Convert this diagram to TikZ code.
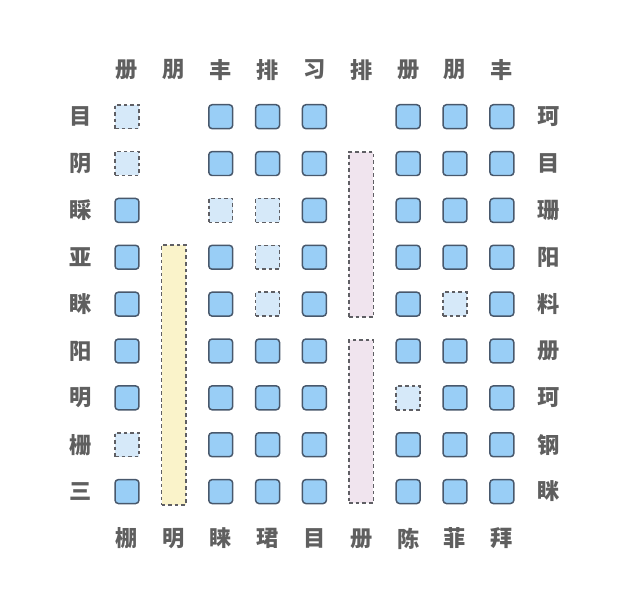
\documentclass[tikz,border=0pt]{standalone}
\usepackage{fontspec}
\newfontfamily\cjk{Noto Sans CJK SC}
\usepackage{xcolor}
\definecolor{cellblue}{RGB}{153,206,246}
\definecolor{cellpale}{RGB}{214,233,249}
\definecolor{celledge}{RGB}{72,88,108}
\definecolor{dashgray}{RGB}{95,95,100}
\definecolor{barcream}{RGB}{250,243,202}
\definecolor{barpink}{RGB}{240,228,238}
\definecolor{lblgray}{RGB}{95,95,95}
\usetikzlibrary{positioning}

\begin{document}
\begin{tikzpicture}[
  cell/.style={draw=celledge,fill=cellblue,line width=0.9pt,rounded corners=2pt,
    minimum size=0.51cm,inner sep=0pt},
  gap/.style={draw=dashgray,fill=cellpale,line width=1pt,dash pattern=on 2.2pt off 1.8pt,
    minimum size=0.51cm,inner sep=0pt},
  bar/.style={draw=dashgray,line width=1pt,dash pattern=on 2.2pt off 1.8pt,
    minimum width=0.52cm,inner sep=0pt},
  lbl/.style={font=\cjk\bfseries\fontsize{13.5}{14}\selectfont,text=lblgray,inner sep=0pt}
]
  \useasboundingbox (-1.71,1.49) rectangle (11.99,-11.357);
  % Column labels
  \foreach \ch [count=\i] in {册,朋,丰,排,习,排,册,朋,丰}
    \node[lbl] (top-\i) at (\i,0) {\ch};
  \foreach \ch [count=\i] in {棚,明,睐,珺,目,册,陈,菲,拜}
    \node[lbl] (bot-\i) at (\i,-10) {\ch};
  % Row labels
  \foreach \ch [count=\j] in {目,阴,睬,亚,眯,阳,明,栅,三}
    \node[lbl] (left-\j) at (0,-\j) {\ch};
  \foreach \ch [count=\j] in {珂,目,珊,阳,料,册,珂,钢,眯}
    \node[lbl] (right-\j) at (10,-\j) {\ch};
  % Filled cells
  \foreach \c/\rs in {1/{3,4,5,6,7,9},3/{1,2,4,5,6,7,8,9},4/{1,2,6,7,8,9},
      5/{1,2,3,4,5,6,7,8,9},7/{1,2,3,4,5,6,8,9},8/{1,2,3,4,6,7,8,9},9/{1,2,3,4,5,6,7,8,9}}
    \foreach \r in \rs
      \node[cell] (c-\c-\r) at (\c,-\r) {};
  % Empty cells
  \foreach \c/\r in {1/1,1/2,1/8,3/3,4/3,4/4,4/5,7/7,8/5}
    \node[gap] (c-\c-\r) at (\c,-\r) {};
  % Bars
  \node[bar,fill=barcream,minimum height=5.54cm] (yellowbar) at (2,-6.51) {};
  \node[bar,fill=barpink,minimum height=3.53cm] (pinkbar1) at (6,-3.515) {};
  \node[bar,fill=barpink,minimum height=3.47cm] (pinkbar2) at (6,-7.505) {};
\end{tikzpicture}
\end{document}
